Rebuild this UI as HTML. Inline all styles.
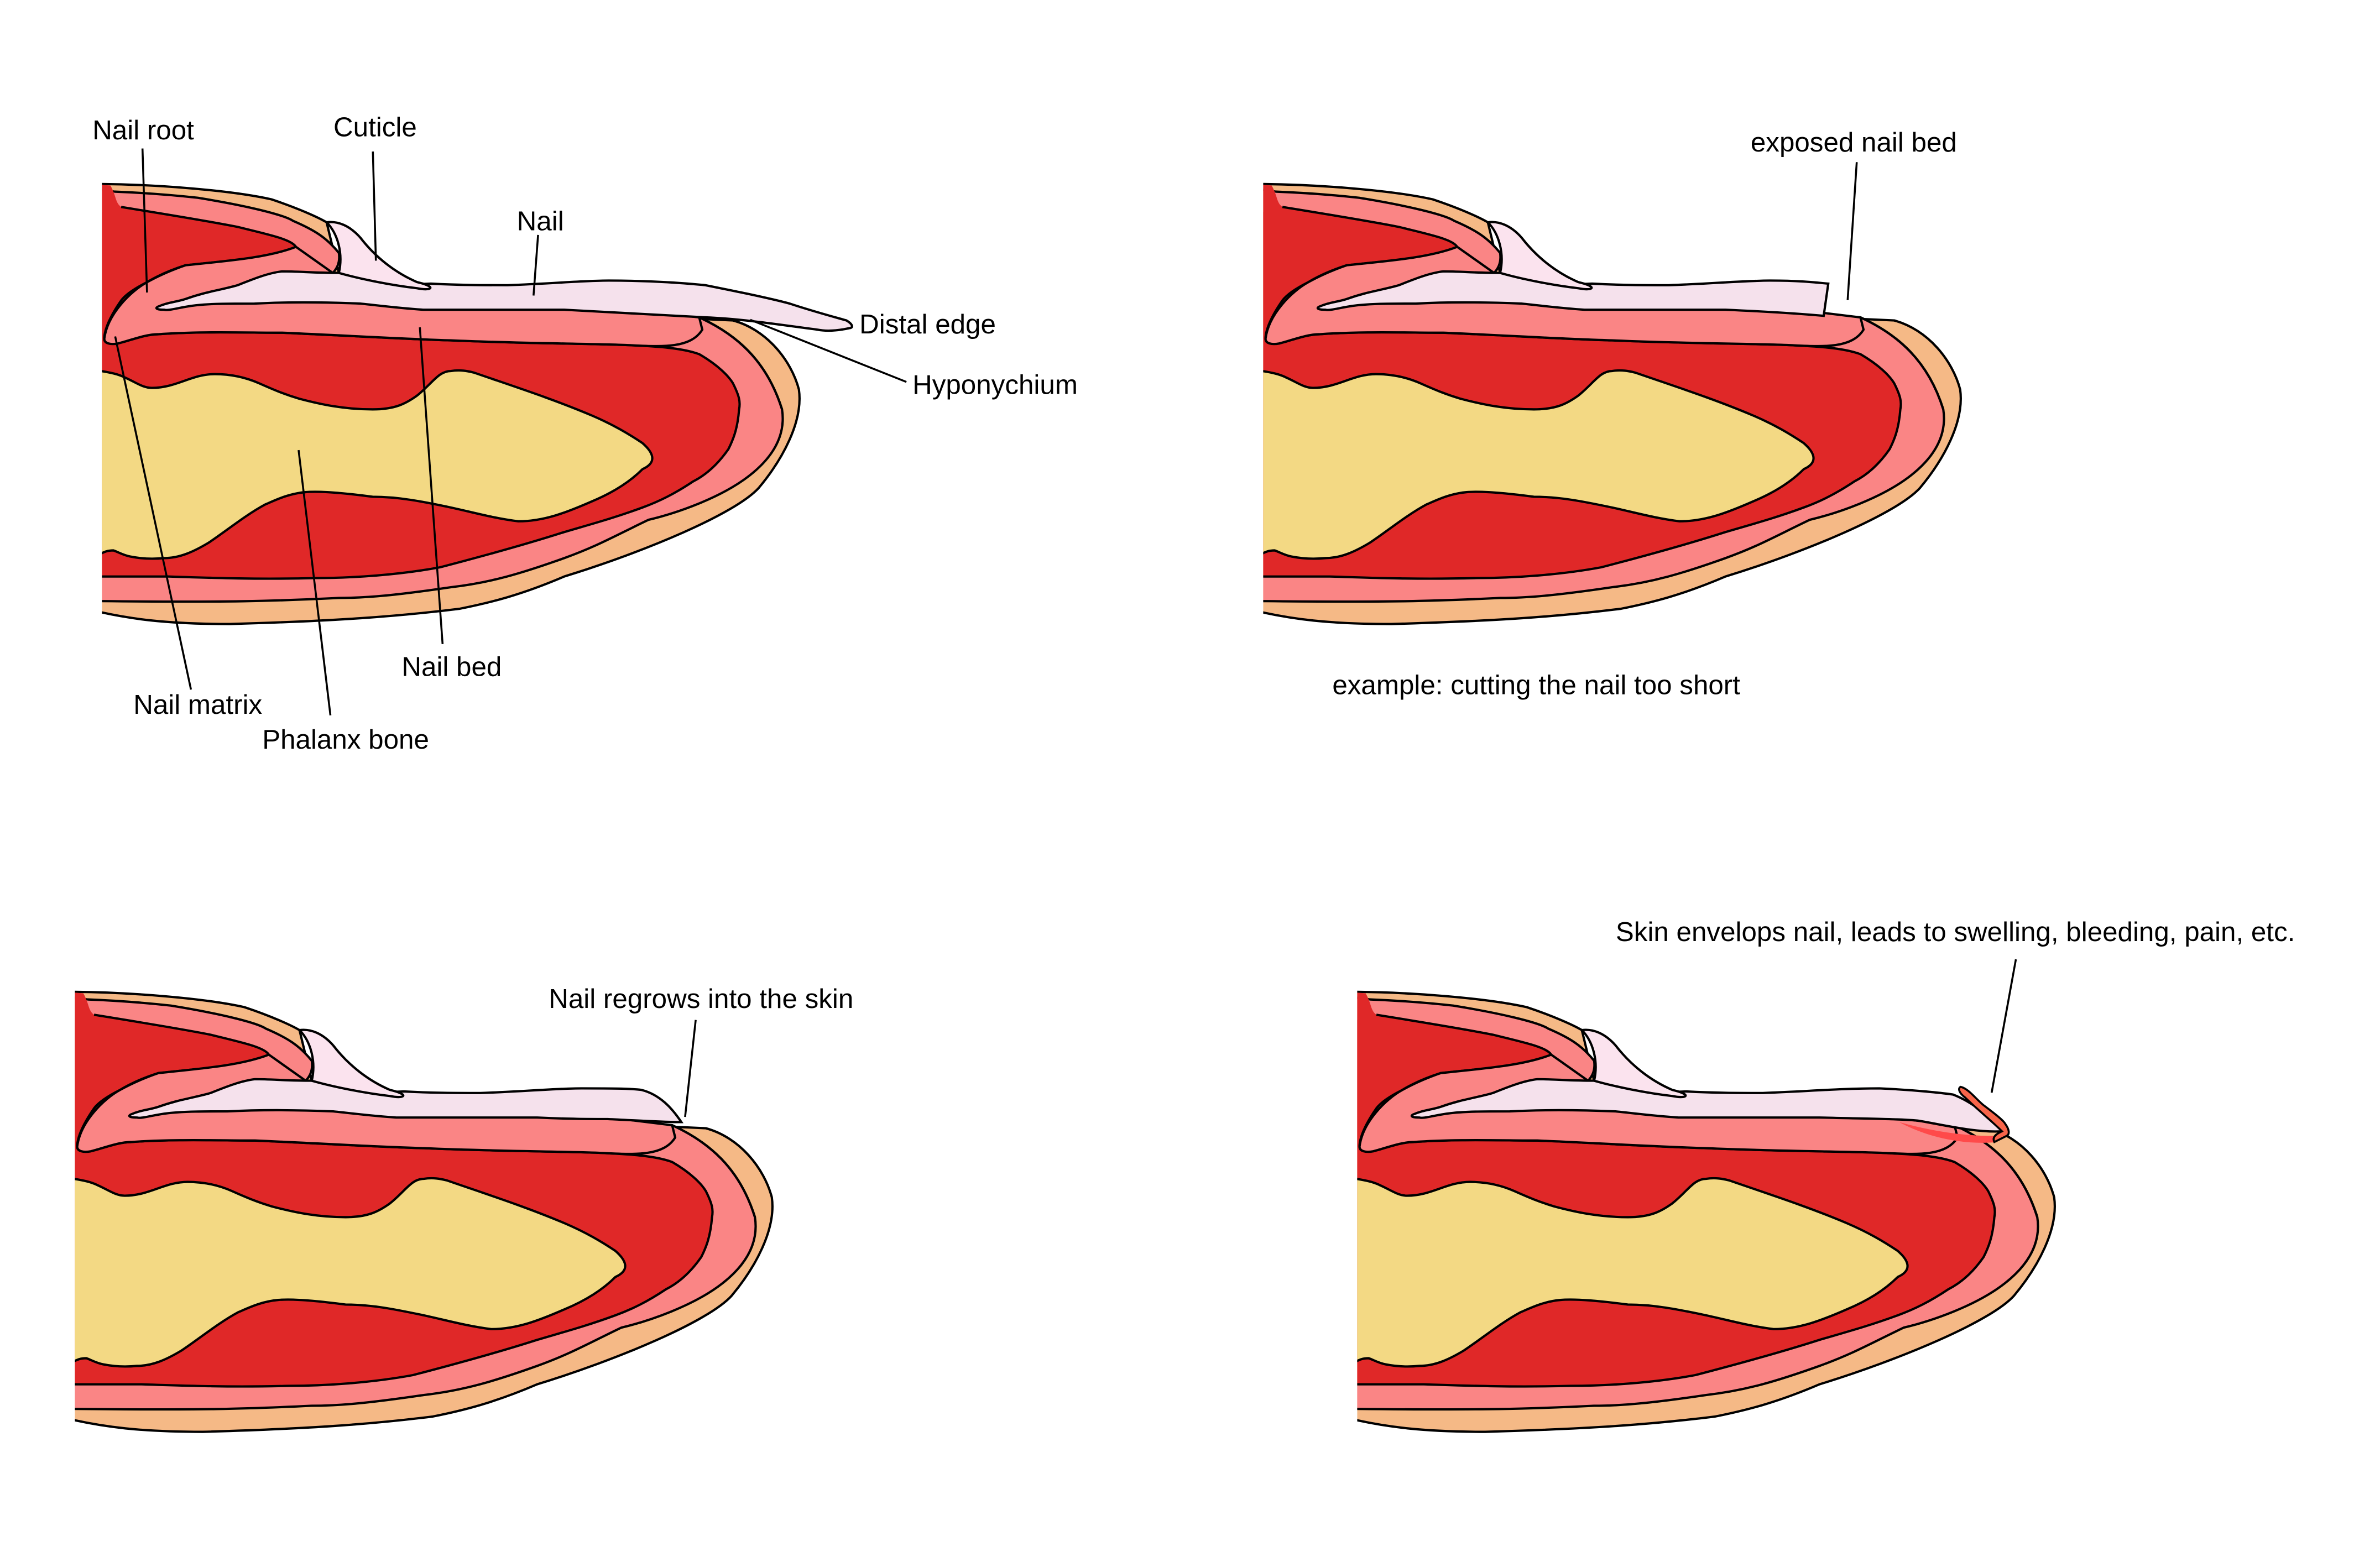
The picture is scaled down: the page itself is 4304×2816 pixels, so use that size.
<!DOCTYPE html>
<html><head><meta charset="utf-8">
<style>
html,body{margin:0;padding:0;background:#fff;}
svg{display:block;}
text{font-family:"Liberation Sans",sans-serif;font-size:18px;fill:#000;}
</style></head>
<body>
<svg width="4304" height="2816" viewBox="0 0 4304 2816" xmlns="http://www.w3.org/2000/svg">
<defs>
<clipPath id="cl"><rect x="66.5" y="0" width="700" height="500"/></clipPath>
<g id="finger" stroke="#000" stroke-width="1.5" stroke-linejoin="round" clip-path="url(#cl)">
  <path fill="#f5b986" d="M60,120 C100,120 150,124 177,130 C195,136 208,142 213,145 L221,178 L280,200 L478,209 C500,215 516,235 521,254 C524,275 510,300 495,318 C480,335 420,360 368,376 C340,388 320,393 300,397 C260,402 220,405 150,407 C110,407 85,404 60,398 Z"/>
  <path fill="#fa8585" d="M60,123 L75,125 C100,126 120,128 129,129 C160,134 185,140 191,144 C205,150 213,155 221,165 C222,172 219,176 217,178 L300,205 L456,207 C480,218 500,235 510,267 C512,280 508,295 489,310 C470,325 440,335 423,339 C400,350 390,356 368,364 C340,374 320,380 294,383 C260,388 240,390 221,390 C180,392 150,393 60,392 Z"/>
  <path fill="#e02828" stroke="none" d="M60,120 L72,121 C76,128 75,132 79,135 L193,161 L68,221 L60,221 Z"/>
  <path fill="#e02828" d="M79,135 C110,140 140,145 155,148 C175,153 190,156 193,161 C193,165 185,167 180,167 C150,170 130,172 121,173 C105,178 96,184 96,184 C88,188 82,192 79,196 C72,206 68,215 68,221 C72,225 77,224 77,224 C85,222 95,218 103,218 C130,216 160,217 184,217 C230,219 260,221 294,222 C340,224 380,224 408,225 C430,226 445,227 456,231 C468,238 475,245 478,250 C482,258 483,262 482,267 C481,280 478,287 475,293 C468,303 460,310 452,314 C440,322 430,327 419,331 C400,338 385,342 368,347 C340,356 310,364 287,370 C260,375 230,377 206,377 C170,378 140,377 110,376 L60,376 L60,140"/>
  <path fill="#fa8585" d="M68,221 C70,205 85,190 96,184 C105,179 115,175 121,173 C150,170 175,168 193,161 L217,178 L456,207 L458,215 C450,228 430,226 408,225 C380,224 340,224 294,222 C260,221 230,219 184,217 C160,217 130,216 103,218 C95,218 85,222 77,224 C72,225 68,224 68,221 Z"/>
  <path fill="none" d="M456,207 C480,218 500,235 510,267"/>
  <path fill="#f3d984" d="M60,242 L66,242 C72,243 77,244 81,246 C88,249 93,253 99,253 C115,253 125,244 140,244 C150,244 160,246 169,250 C178,254 185,257 195,260 C210,264 225,267 243,267 C258,267 265,263 272,258 C282,250 286,242 294,242 C300,241 305,242 309,243 C335,252 360,260 386,271 C400,277 410,283 419,289 C427,296 428,302 419,306 C410,315 398,322 386,327 C370,334 355,340 338,340 C322,338 308,334 294,331 C275,327 260,324 243,324 C228,322 210,320 199,321 C188,322 180,326 173,329 C160,336 148,346 136,354 C126,360 117,364 107,364 C97,365 90,364 85,363 C80,362 77,360 74,359 C70,359 68,360 66,361 L60,361 Z"/>
</g>
<path id="cut" fill="#fbe3ee" stroke="#000" stroke-width="1.5" d="M213,145 C220,144 228,147 235,155 C245,168 258,178 272,184 C285,187 282,190 272,188 C255,186 235,182 221,178 C224,165 220,152 213,145 Z"/>
</defs>

<!-- Panel 1 -->
<g transform="scale(2.773)">
  <use href="#finger"/>
  <path fill="#f5e1ec" stroke="#000" stroke-width="1.5" d="M281,185 C300,186 315,186 331,186 C360,185 380,183 397,183 C420,183 440,184 460,186 C480,190 500,194 515,198 C530,203 545,207 552,209 C557,212 556,214 554,214 C545,216 538,216 533,215 C510,212 485,208 460,207 C420,205 390,203 368,202 C330,202 300,202 276,202 C260,201 245,199 235,198 C210,197 185,197 166,198 C150,198 138,198 129,199 C118,200 110,203 107,202 C102,202 101,201 103,200 C110,197 115,197 121,195 C135,190 145,189 155,186 C165,182 175,178 184,177 C195,177 205,178 221,178 C245,183 265,186 281,185 Z"/>
  <use href="#cut"/>
</g>

<!-- Panel 2 -->
<g transform="translate(2100,0) scale(2.773)">
  <use href="#finger"/>
  <path fill="#f5e1ec" stroke="#000" stroke-width="1.5" d="M281,185 C300,186 315,186 331,186 C360,185 380,183 397,183 C415,183 425,184 435,185 L432,206 C410,204 390,203 368,202 C330,202 300,202 276,202 C260,201 245,199 235,198 C210,197 185,197 166,198 C150,198 138,198 129,199 C118,200 110,203 107,202 C102,202 101,201 103,200 C110,197 115,197 121,195 C135,190 145,189 155,186 C165,182 175,178 184,177 C195,177 205,178 221,178 C245,183 265,186 281,185 Z"/>
  <use href="#cut"/>
</g>

<!-- Panel 3 -->
<g transform="translate(-49,1461) scale(2.773)">
  <use href="#finger"/>
  <path fill="#f5e1ec" stroke="#000" stroke-width="1.5" d="M281,185 C300,186 315,186 331,186 C360,185 380,183 397,183 C415,183 428,183 436,184 C448,187 456,196 462,205 C450,205 435,204 414,203 C400,203 390,203 368,202 C330,202 300,202 276,202 C260,201 245,199 235,198 C210,197 185,197 166,198 C150,198 138,198 129,199 C118,200 110,203 107,202 C102,202 101,201 103,200 C110,197 115,197 121,195 C135,190 145,189 155,186 C165,182 175,178 184,177 C195,177 205,178 221,178 C245,183 265,186 281,185 Z"/>
  <use href="#cut"/>
</g>

<!-- Panel 4 -->
<g transform="translate(2270,1461) scale(2.773)">
  <use href="#finger"/>
  <path fill="#ff4a4a" stroke="none" d="M420,205 C445,212 465,214 482,214 L484,218 C465,220 440,216 420,205 Z"/>
  <path fill="#f5e1ec" stroke="#000" stroke-width="1.5" d="M281,185 C300,186 315,186 331,186 C360,185 380,183 407,183 C430,184 448,186 455,187 C468,192 480,202 487,211 C470,212 450,207 432,204 C420,203 410,203 368,202 C330,202 300,202 276,202 C260,201 245,199 235,198 C210,197 185,197 166,198 C150,198 138,198 129,199 C118,200 110,203 107,202 C102,202 101,201 103,200 C110,197 115,197 121,195 C135,190 145,189 155,186 C165,182 175,178 184,177 C195,177 205,178 221,178 C245,183 265,186 281,185 Z"/>
  <path fill="#f8654a" stroke="#000" stroke-width="1.3" d="M460,182 C465,183 470,190 475,194 C483,200 488,204 489,206 C492,210 492,213 490,214 L482,218 C480,214 485,212 487,211 C480,204 470,196 463,189 C459,186 458,183 460,182 Z"/>
  <use href="#cut"/>
</g>

<!-- Labels and leaders (display space) -->
<g transform="scale(2.741)">
  <g stroke="#000" stroke-width="1.3">
    <line x1="94" y1="98" x2="97" y2="193"/>
    <line x1="246" y1="100" x2="248" y2="172"/>
    <line x1="355" y1="155" x2="352" y2="195"/>
    <line x1="495" y1="211" x2="598" y2="252"/>
    <line x1="76" y1="222" x2="126" y2="455"/>
    <line x1="197" y1="297" x2="218" y2="472"/>
    <line x1="277" y1="216" x2="292" y2="425"/>
    <line x1="1225" y1="107" x2="1219" y2="198"/>
    <line x1="459" y1="673" x2="452" y2="737"/>
    <line x1="1330" y1="633" x2="1314" y2="721"/>
  </g>
  <text x="61" y="92">Nail root</text>
  <text x="220" y="90">Cuticle</text>
  <text x="341" y="152">Nail</text>
  <text x="567" y="220">Distal edge</text>
  <text x="602" y="260">Hyponychium</text>
  <text x="265" y="446">Nail bed</text>
  <text x="88" y="471">Nail matrix</text>
  <text x="173" y="494">Phalanx bone</text>
  <text x="1155" y="100">exposed nail bed</text>
  <text x="879" y="458">example: cutting the nail too short</text>
  <text x="362" y="665">Nail regrows into the skin</text>
  <text x="1066" y="621">Skin envelops nail, leads to swelling, bleeding, pain, etc.</text>
</g>
</svg>
</body></html>
